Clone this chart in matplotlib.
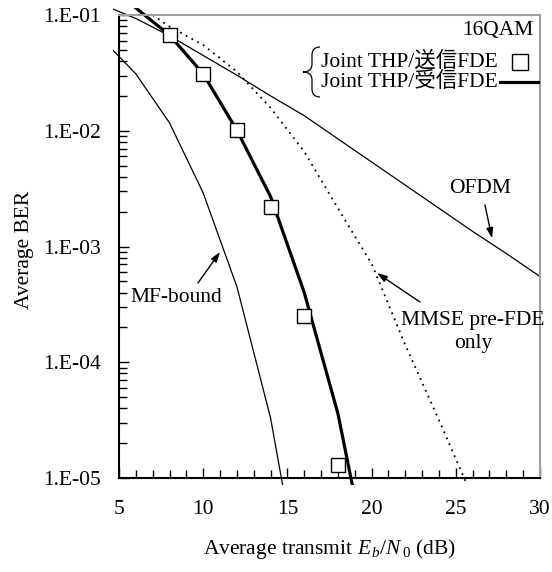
import numpy as np
import matplotlib
matplotlib.use("Agg")
import matplotlib.pyplot as plt
from matplotlib.ticker import FixedLocator, FuncFormatter, MultipleLocator, NullFormatter
from matplotlib.patches import Rectangle, PathPatch
from matplotlib.path import Path
from matplotlib.lines import Line2D

plt.rcParams['font.family'] = ['Liberation Serif', 'Noto Sans CJK JP']
plt.rcParams['mathtext.fontset'] = 'custom'
plt.rcParams['mathtext.rm'] = 'Liberation Serif'
plt.rcParams['mathtext.it'] = 'Liberation Serif:italic'

# Data
ofdm_snr = [4, 6, 8, 10, 12, 14, 16, 18, 20, 22, 24, 26, 28, 30]
ofdm_ber = [0.123, 0.0933, 0.0661, 0.0447, 0.0302, 0.0200, 0.0135, 0.00851,
            0.00537, 0.00339, 0.00214, 0.00135, 0.00087, 0.00055]

mmse_snr = [7, 8, 10, 12, 14, 16, 18, 20, 22, 24, 26]
mmse_ber = [0.100, 0.0794, 0.0550, 0.0324, 0.0158, 0.0066, 0.00214,
            0.00071, 0.000141, 3.16e-5, 6.8e-6]

rx_snr = [6, 8, 10, 12, 14, 16, 18, 20]
rx_ber = [0.115, 0.067, 0.031, 0.0101, 0.0027, 4.0e-4, 3.6e-5, 1.3e-6]

tx_snr = [8, 10, 12, 14, 16, 18]
tx_ber = [0.067, 0.031, 0.0101, 0.0022, 2.5e-4, 1.3e-5]

mf_snr = [4, 6, 8, 10, 12, 14, 16]
mf_ber = [0.062, 0.031, 0.0117, 0.0029, 4.5e-4, 3.3e-5, 8e-7]

xticks = [5, 10, 15, 20, 25, 30]
yticks = [1e-5, 1e-4, 1e-3, 1e-2, 1e-1]

FS = 15.5
W, H = 552, 572

def fpos(px, py):
    # pixel position (from top-left) -> figure fraction
    return px / W, 1 - py / H

fig = plt.figure(figsize=(W/100, H/100), dpi=100)
ax = fig.add_axes([119/W, 1-478/H, 421/W, 463/H])

# lines may run a few pixels past the frame, like in the original
clip = Rectangle((-0.0143, -0.0152), 1.03, 1.03, transform=ax.transAxes)

lines = []
lines += ax.plot(ofdm_snr, ofdm_ber, color='k', lw=0.9)
lines += ax.plot(mmse_snr, mmse_ber, color='k', lw=1.3, linestyle=(0, (1, 2.6)))
lines += ax.plot(mf_snr, mf_ber, color='k', lw=0.9)
lines += ax.plot(rx_snr, rx_ber, color='k', lw=2.3)
for ln in lines:
    ln.set_clip_path(clip)
ax.plot(tx_snr, tx_ber, linestyle='none', marker='s', ms=9.5,
        mfc='white', mec='k', mew=1.0, zorder=5)

ax.set_yscale('log')
ax.set_xlim(5, 30)
ax.set_ylim(1e-5, 1e-1)

ax.xaxis.set_major_locator(FixedLocator(xticks))
ax.xaxis.set_minor_locator(MultipleLocator(1))
ax.yaxis.set_major_locator(FixedLocator(yticks))
ax.yaxis.set_minor_formatter(NullFormatter())
ax.yaxis.set_major_formatter(FuncFormatter(lambda v, p: "1.E-%02d" % round(-np.log10(v))))

ax.tick_params(which='both', direction='in', labelsize=FS, width=1.0, color='k')
ax.tick_params(which='major', length=7)
ax.tick_params(which='minor', length=6)
ax.tick_params(axis='x', pad=16)
ax.tick_params(axis='y', pad=13)

for s in ['left', 'bottom']:
    ax.spines[s].set_linewidth(1.5)
    ax.spines[s].set_color('k')
for s in ['top', 'right']:
    ax.spines[s].set_linewidth(1.5)
    ax.spines[s].set_color('#a0a0a0')

fig.text(*fpos(24, 250), "Average BER", rotation=90, ha='center', va='center', fontsize=FS)
fig.text(*fpos(330, 549), r"Average transmit $E_{\,b}/N_{\,0}$ (dB)",
         ha='center', va='center', fontsize=FS)

# legend block
fig.text(*fpos(533, 31), "16QAM", ha='right', va='center', fontsize=FS)
fig.text(*fpos(321, 62), "Joint THP/送信FDE", ha='left', va='center', fontsize=FS)
fig.text(*fpos(321, 82), "Joint THP/受信FDE", ha='left', va='center', fontsize=FS)
fig.add_artist(Line2D(*zip(fpos(520, 62)), marker='s', ms=11, mfc='white',
                      mec='k', mew=1.0, transform=fig.transFigure))
fig.add_artist(Line2D(*zip(fpos(500, 82), fpos(538, 82)), color='k', lw=2.3,
                      transform=fig.transFigure))

# thin curly brace in front of the two entries
brace_px = [(320, 47), (312, 47), (312, 55), (312, 64), (312, 72), (303, 72),
            (312, 72), (312, 80), (312, 89), (312, 97), (320, 97)]
brace_codes = [Path.MOVETO, Path.CURVE3, Path.CURVE3, Path.LINETO,
               Path.CURVE3, Path.CURVE3, Path.CURVE3, Path.CURVE3,
               Path.LINETO, Path.CURVE3, Path.CURVE3]
brace = Path([fpos(*p) for p in brace_px], brace_codes)
fig.add_artist(PathPatch(brace, fc='none', ec='k', lw=0.9, transform=fig.transFigure))

arrow = dict(arrowstyle='-|>,head_length=0.6,head_width=0.2', color='k', lw=1.0,
             shrinkA=0, shrinkB=0)

ax.text(26.44, 3.2e-3, "OFDM", ha='center', va='center', fontsize=FS)
ax.annotate('', xy=(27.15, 1.18e-3), xytext=(26.73, 2.29e-3), arrowprops=arrow)

ax.text(26.02, 1.82e-4, "MMSE pre-FDE\nonly", ha='center', va='center',
        fontsize=FS, linespacing=1.3)
ax.annotate('', xy=(20.32, 5.9e-4), xytext=(22.87, 3.32e-4), arrowprops=arrow)

ax.text(8.38, 3.66e-4, "MF-bound", ha='center', va='center', fontsize=FS)
ax.annotate('', xy=(11.0, 8.97e-4), xytext=(9.69, 4.84e-4), arrowprops=arrow)

fig.savefig("out.png", dpi=100)
